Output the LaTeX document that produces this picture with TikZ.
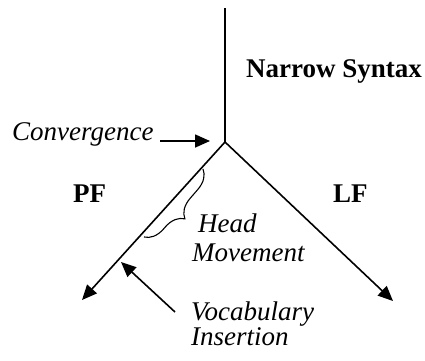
\documentclass[tikz,border=0pt]{standalone}
\usepackage{fontspec}
\setmainfont{Liberation Serif}
\usetikzlibrary{arrows.meta,decorations.pathreplacing}
\begin{document}
\begin{tikzpicture}[x=1pt,y=-1pt,
  lbl/.style={inner sep=0pt,anchor=base west,font=\fontsize{27}{30}\selectfont},
  blbl/.style={lbl,font=\fontsize{27}{30}\selectfont\bfseries},
  ilbl/.style={lbl,font=\fontsize{27}{30}\selectfont\itshape},
  ln/.style={line width=1.6pt},
  arr/.style={ln,-{Triangle[length=15pt,width=13pt]}}]
\useasboundingbox (0,0) rectangle (425,360);
\coordinate (top) at (225,8);
\coordinate (junc) at (225,142);
\coordinate (pf) at (82,300);
\coordinate (lf) at (393,301);
\coordinate (cvt) at (160,141);
\coordinate (cvh) at (210,141);
\coordinate (vit) at (175,312);
\coordinate (vih) at (121,262);
\coordinate (bra) at (203,169);
\coordinate (brb) at (144,237);
\draw[ln] (top) -- (junc);
\draw[arr] (junc) -- (pf);
\draw[arr] (junc) -- (lf);
\draw[arr] (cvt) -- (cvh);
\draw[arr] (vit) -- (vih);
\draw[line width=1.1pt,decorate,decoration={brace,amplitude=19pt,aspect=0.55}] (bra) -- (brb);
\node[blbl] (ns) at (246,77) {Narrow Syntax};
\node[ilbl] (conv) at (12,140) {Convergence};
\node[blbl] (pfl) at (73,202) {PF};
\node[blbl] (lfl) at (333,202) {LF};
\node[ilbl,align=left,font=\fontsize{27}{29}\selectfont\itshape] (head) at (192,261) {\hspace*{6pt}Head\\Movement};
\node[ilbl,align=left,font=\fontsize{27}{22}\selectfont\itshape] (voc) at (191,345) {Vocabulary\\Insertion};
\end{tikzpicture}
\end{document}
